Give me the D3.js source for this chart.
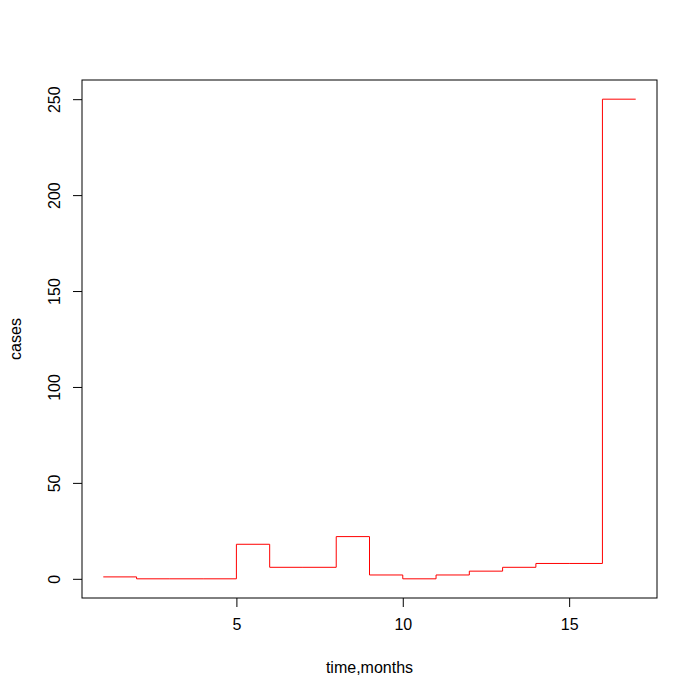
<!DOCTYPE html>
<html><head><meta charset="utf-8">
<script src="https://cdn.jsdelivr.net/npm/d3@7"></script>
<style>body{margin:0;background:#fff}svg text{font-family:"Liberation Sans",Arial,sans-serif;font-size:16px;fill:#000}</style>
</head><body>
<script>
const months = [1,2,3,4,5,6,7,8,9,10,11,12,13,14,15,16,17];
const cases  = [1,0,0,0,18,6,6,22,2,0,2,4,6,8,8,250,250];
const xTicks = [5,10,15];
const yTicks = [0,50,100,150,200,250];

const W=700,H=700, L=82, R=657, T=80, B=598;
const svg=d3.select("body").append("svg").attr("width",W).attr("height",H);
const x=d3.scaleLinear().domain([1-0.64,17+0.64]).range([L,R]);
const y=d3.scaleLinear().domain([-10,260]).range([B,T]);

const data=months.map((m,i)=>({m,v:cases[i]}));
svg.append("path").datum(data)
  .attr("d",d3.line().x(d=>x(d.m)).y(d=>y(d.v)).curve(d3.curveStepAfter))
  .attr("fill","none").attr("stroke","#ff0000").attr("stroke-width",1);

svg.append("rect").attr("x",L).attr("y",T).attr("width",R-L).attr("height",B-T)
  .attr("fill","none").attr("stroke","#000").attr("stroke-width",1);

const xa=svg.append("g").attr("transform",`translate(0,${B})`)
  .call(d3.axisBottom(x).tickValues(xTicks).tickSize(9).tickPadding(12).tickFormat(d3.format("d")));
xa.select(".domain").remove();
const ya=svg.append("g").attr("transform",`translate(${L},0)`)
  .call(d3.axisLeft(y).tickValues(yTicks).tickSize(9).tickFormat(d3.format("d")));
ya.select(".domain").remove();
ya.selectAll(".tick text").attr("transform","rotate(-90)").attr("x",0).attr("y",-22)
  .attr("dy","0").attr("text-anchor","middle");
svg.selectAll(".tick text").style("font-size","16px").style("font-family","'Liberation Sans',Arial,sans-serif");

svg.append("text").attr("x",(L+R)/2).attr("y",673).attr("text-anchor","middle").text("time,months");
svg.append("text").attr("transform",`translate(21,${(T+B)/2}) rotate(-90)`).attr("text-anchor","middle").text("cases");
</script>
</body></html>
